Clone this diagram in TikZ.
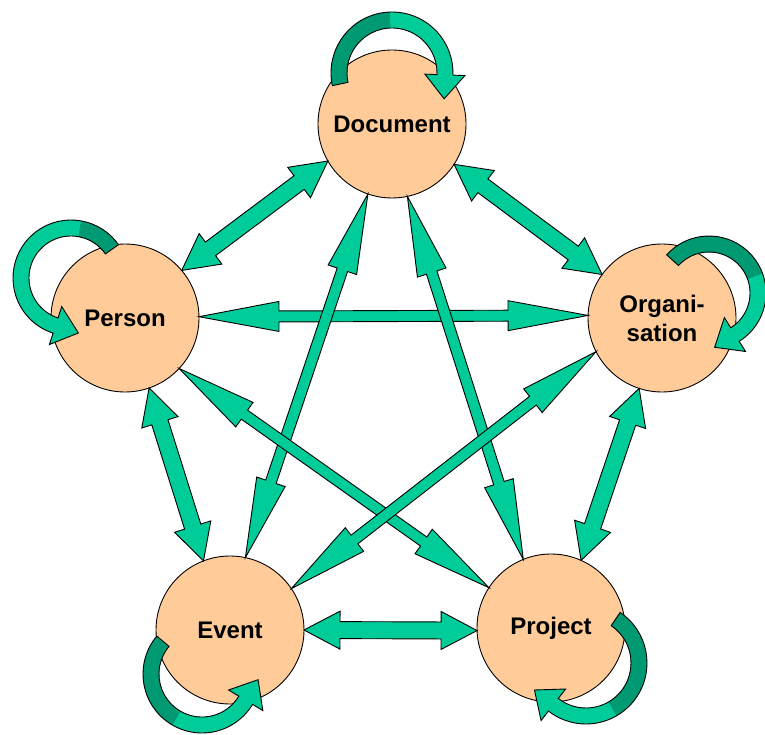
\documentclass[tikz,border=0pt]{standalone}
\usepackage{fontspec}
\setmainfont{Liberation Sans}
\usetikzlibrary{calc}
\definecolor{peach}{HTML}{FFCC99}
\definecolor{sea}{HTML}{00CC99}
\definecolor{seadark}{HTML}{009A72}
\tikzset{
  entity/.style={circle, draw=black, line width=0.9pt, fill=peach, minimum size=148pt,
    inner sep=0pt, outer sep=0pt, align=center, font=\fontsize{24}{29}\selectfont\bfseries},
  arrowst/.style={fill=sea, draw=black, line width=0.9pt, line join=miter},
}
% double block arrow: start, end, shaft half width, head half width, head length
\newcommand\dblarrow[5]{%
 \filldraw[arrowst] (#1)
  -- ($(#1)!#5pt!(#2)!#4pt!90:(#2)$)
  -- ($(#1)!#5pt!(#2)!#3pt!90:(#2)$)
  -- ($(#2)!#5pt!(#1)!#3pt!-90:(#1)$)
  -- ($(#2)!#5pt!(#1)!#4pt!-90:(#1)$)
  -- (#2)
  -- ($(#2)!#5pt!(#1)!#4pt!90:(#1)$)
  -- ($(#2)!#5pt!(#1)!#3pt!90:(#1)$)
  -- ($(#1)!#5pt!(#2)!#3pt!-90:(#2)$)
  -- ($(#1)!#5pt!(#2)!#4pt!-90:(#2)$)
  -- cycle;}
% curved self loop: center, R, start, mid, end angle, tangent offset
\newcommand\selfloop[6]{%
 \pgfmathsetmacro\Ro{#2+8}\pgfmathsetmacro\Ri{#2-8}%
 \pgfmathsetmacro\Rho{#2+20}\pgfmathsetmacro\Rhi{#2-20}%
 \pgfmathsetmacro\tang{#5+#6}%
 \fill[sea] ($(#1)+(#3:\Ro)$) arc[start angle=#3,end angle=#5,radius=\Ro]
   -- ($(#1)+(#5:\Rho)$) -- ($(#1)+(#5:#2)+(\tang:24)$) -- ($(#1)+(#5:\Rhi)$)
   -- ($(#1)+(#5:\Ri)$) arc[start angle=#5,end angle=#3,radius=\Ri] -- cycle;
 \fill[seadark] ($(#1)+(#3:\Ro)$) arc[start angle=#3,end angle=#4,radius=\Ro]
   -- ($(#1)+(#4:\Ri)$) arc[start angle=#4,end angle=#3,radius=\Ri] -- cycle;
 \draw[black, line width=0.9pt, line join=miter] ($(#1)+(#3:\Ro)$) arc[start angle=#3,end angle=#5,radius=\Ro]
   -- ($(#1)+(#5:\Rho)$) -- ($(#1)+(#5:#2)+(\tang:24)$) -- ($(#1)+(#5:\Rhi)$)
   -- ($(#1)+(#5:\Ri)$) arc[start angle=#5,end angle=#3,radius=\Ri] -- cycle;}
\begin{document}
\begin{tikzpicture}[x=1pt,y=1pt]
\useasboundingbox (0,-735) rectangle (765,0);
\node[entity] (doc) at (392,-124) {Document};
\node[entity] (person) at (125,-318) {Person};
\node[entity] (org) at (662,-318) {Organi-\\sation};
\node[entity] (event) at (230,-630) {Event};
\node[entity] (project) at (551,-628) {Project};

% pentagon edges
\dblarrow{doc.210}{person.40}{8.5}{19}{36}
\dblarrow{doc.-33}{org.144}{8.5}{19}{36}
\dblarrow{person.-71}{event.111}{8.5}{19}{36}
\dblarrow{org.252}{project.66}{8.5}{19}{36}
\dblarrow{event.0}{project.182}{8.5}{19}{36}
% star diagonals
\dblarrow{person.1}{org.178}{5.5}{15}{80}
\dblarrow{doc.251}{event.78}{5.5}{15}{80}
\dblarrow{doc.282}{project.112}{5.5}{15}{80}
\dblarrow{person.-43}{project.147}{5.5}{15}{80}
\dblarrow{org.207}{event.34}{5.5}{15}{80}

% self loops
\coordinate (docL) at ($(doc)+(0,51)$);
\coordinate (personL) at ($(person)+(-54,40)$);
\coordinate (orgL) at ($(org)+(47,25)$);
\coordinate (eventL) at ($(event)+(-28,-44)$);
\coordinate (projectL) at ($(project)+(35,-35)$);
\selfloop{docL}{53}{192}{92}{-2}{-90}
\selfloop{personL}{50}{35}{80}{252}{90}
\selfloop{orgL}{49}{138}{20}{-58}{-90}
\selfloop{eventL}{51}{140}{240}{329}{90}
\selfloop{projectL}{53}{56}{-60}{-128}{-90}
\end{tikzpicture}
\end{document}
